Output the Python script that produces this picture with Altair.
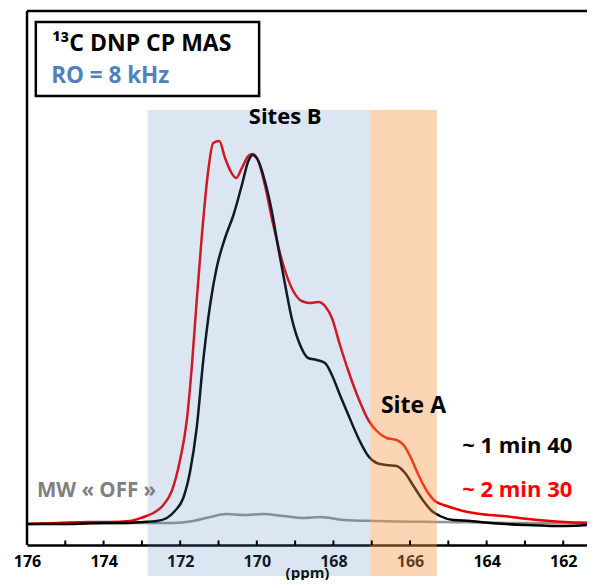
import altair as alt
import pandas as pd

# ---- data ----
RED_PPM = [176.0, 175.2, 174.4, 173.83, 173.31, 172.96, 172.70, 172.44, 172.22, 172.01, 171.83, 171.70,
           171.57, 171.44, 171.27, 171.14, 170.98, 170.83, 170.66, 170.54, 170.39, 170.22, 170.11, 169.96,
           169.79, 169.57, 169.31, 169.05, 168.83, 168.61, 168.39, 168.22, 168.04, 167.83, 167.61, 167.35,
           167.09, 166.87, 166.61, 166.35, 166.17, 166.00, 165.78, 165.56, 165.35, 165.04, 164.61, 164.17,
           163.57, 162.92, 161.97, 161.0]
RED_INT = [0, 1, 2, 2, 3, 7, 11, 19, 33, 63, 103, 156,
           223, 286, 353, 381, 383, 366, 351, 346, 356, 368, 370, 363,
           339, 299, 259, 233, 223, 221, 222, 218, 206, 179, 153, 126,
           104, 93, 86, 84, 79, 68, 49, 33, 23, 18, 13, 10,
           8, 5, 2, 1]

BLACK_PPM = [176.0, 175.0, 174.0, 173.4, 172.96, 172.61, 172.35, 172.14, 171.92, 171.74, 171.57, 171.40,
             171.22, 171.05, 170.83, 170.61, 170.39, 170.22, 170.11, 169.96, 169.79, 169.61, 169.44, 169.26,
             169.09, 168.87, 168.66, 168.44, 168.22, 168.04, 167.83, 167.61, 167.35, 167.09, 166.87, 166.61,
             166.35, 166.13, 165.91, 165.65, 165.43, 165.22, 164.87, 164.43, 164.17, 163.5, 162.92, 161.97,
             161.0]
BLACK_INT = [0, 0, 1, 1, 2, 3, 6, 13, 26, 53, 96, 163,
             219, 256, 286, 309, 339, 363, 369, 363, 343, 313, 276, 239,
             206, 179, 166, 164, 161, 149, 129, 109, 86, 68, 61, 59,
             58, 51, 38, 23, 13, 8, 4, 3, 2, 0, -1, -2,
             0]

GREY_PPM = [176.0, 173.0, 172.2, 171.66, 171.22, 170.79, 170.35, 169.83, 169.31, 168.79, 168.35, 167.74,
            166.87, 165.13, 163.0, 161.0]
GREY_INT = [0, 1, 1, 3, 7, 10, 9, 10, 8, 6, 7, 4,
            3, 2, 1, 1]

TICKS = list(range(162, 177))
MINOR_TICKS = list(range(162, 176))

BAND_START = [172.85, 167.05]
BAND_END = [167.05, 165.3]
BAND_TOP = [414, 414]
BAND_BOTTOM = [-52, -52]
BAND_COLOR = ["#4F81BD", "#F79646"]
BAND_OPACITY = [0.2, 0.4]

X_DOMAIN = [161.38, 176.0]
Y_DOMAIN = [-21, 513]

# ---- tables ----
red_df = pd.DataFrame({"ppm": RED_PPM, "I": RED_INT})
black_df = pd.DataFrame({"ppm": BLACK_PPM, "I": BLACK_INT})
grey_df = pd.DataFrame({"ppm": GREY_PPM, "I": GREY_INT})
band_df = pd.DataFrame({"x1": BAND_START, "x2": BAND_END, "y1": BAND_TOP, "y2": BAND_BOTTOM,
                        "c": BAND_COLOR, "o": BAND_OPACITY})
tick_df = pd.DataFrame({"t": MINOR_TICKS})
box_df = pd.DataFrame({"x1": [175.77], "x2": [169.94], "y1": [502], "y2": [428]})
frame_top_df = pd.DataFrame({"x1": [X_DOMAIN[1]], "x2": [X_DOMAIN[0]], "y": [Y_DOMAIN[1]]})
frame_left_df = pd.DataFrame({"x": [X_DOMAIN[1]], "y1": [Y_DOMAIN[0]], "y2": [Y_DOMAIN[1]]})

left_text_df = pd.DataFrame({
    "label": ["\u00b9\u00b3C DNP CP MAS", "RO = 8 kHz", "~ 1 min 40", "~ 2 min 30", "MW \u00ab OFF \u00bb"],
    "x": [175.35, 175.37, 164.64, 164.64, 175.74],
    "y": [473, 441, 71, 27, 27],
    "c": ["#000000", "#4F81BD", "#000000", "#FF0000", "#808080"],
    "s": [23, 22.5, 22, 22, 20.5],
})
center_text_df = pd.DataFrame({
    "label": ["Sites B", "Site A"],
    "x": [169.26, 165.91],
    "y": [400, 111],
    "c": ["#000000", "#000000"],
    "s": [22, 23],
})

FONT = "Open Sans"

x_scale = alt.Scale(domain=X_DOMAIN, reverse=True, nice=False, zero=False)
y_scale = alt.Scale(domain=Y_DOMAIN, nice=False, zero=False)

x_axis = alt.Axis(
    values=TICKS,
    labelExpr="datum.value % 2 == 0 ? datum.label : ''",
    ticks=False, grid=False, domainColor="black", domainWidth=2.5,
    labelFont=FONT, labelFontSize=16, labelFontWeight="bold", labelColor="black",
    labelPadding=8, labelFlush=False, labelOverlap=False,
    title="(ppm)", titleFont=FONT, titleFontSize=15, titleFontWeight="bold",
    titleColor="black", titleY=32, titleBaseline="alphabetic", zindex=0,
)

X = alt.X("ppm:Q", scale=x_scale, axis=x_axis)
Y = alt.Y("I:Q", scale=y_scale, axis=None)

grey_line = alt.Chart(grey_df).mark_line(color="#808080", strokeWidth=2.5, opacity=0.85,
                                         interpolate="monotone").encode(x=X, y=Y)
red_line = alt.Chart(red_df).mark_line(color="#EE0000", strokeWidth=2.5,
                                       interpolate="monotone").encode(x=X, y=Y)
black_line = alt.Chart(black_df).mark_line(color="#000000", strokeWidth=2.5,
                                           interpolate="monotone").encode(x=X, y=Y)

frame_top = alt.Chart(frame_top_df).mark_rule(color="black", strokeWidth=2.5).encode(
    x=alt.X("x1:Q", scale=x_scale), x2="x2:Q", y=alt.Y("y:Q", scale=y_scale)
)
frame_left = alt.Chart(frame_left_df).mark_rule(color="black", strokeWidth=2.5).encode(
    x=alt.X("x:Q", scale=x_scale), y=alt.Y("y1:Q", scale=y_scale), y2="y2:Q"
)

bands = alt.Chart(band_df).mark_rect().encode(
    x=alt.X("x1:Q", scale=x_scale), x2="x2:Q",
    y=alt.Y("y1:Q", scale=y_scale), y2="y2:Q",
    color=alt.Color("c:N", scale=None),
    opacity=alt.Opacity("o:Q", scale=None),
)

ticks = alt.Chart(tick_df).mark_rule(color="black", strokeWidth=2).encode(
    x=alt.X("t:Q", scale=x_scale), y=alt.value(534), y2=alt.value(529.5)
)

box = alt.Chart(box_df).mark_rect(fill="white", stroke="black", strokeWidth=2.5).encode(
    x=alt.X("x1:Q", scale=x_scale), x2="x2:Q",
    y=alt.Y("y1:Q", scale=y_scale), y2="y2:Q",
)

left_text = alt.Chart(left_text_df).mark_text(align="left", baseline="alphabetic", font=FONT,
                                              fontWeight="bold").encode(
    x=alt.X("x:Q", scale=x_scale), y=alt.Y("y:Q", scale=y_scale),
    text="label:N", color=alt.Color("c:N", scale=None), size=alt.Size("s:Q", scale=None),
)
center_text = alt.Chart(center_text_df).mark_text(align="center", baseline="alphabetic", font=FONT,
                                                  fontWeight="bold").encode(
    x=alt.X("x:Q", scale=x_scale), y=alt.Y("y:Q", scale=y_scale),
    text="label:N", color=alt.Color("c:N", scale=None), size=alt.Size("s:Q", scale=None),
)

chart = alt.layer(
    grey_line, red_line, black_line, frame_top, frame_left, bands, ticks, box, left_text, center_text
).properties(
    width=560, height=534,
    padding={"left": 19, "top": 3, "right": 0, "bottom": 35},
    autosize=alt.AutoSizeParams(type="none"),
).configure_view(stroke=None)

chart.save("out.html", embed_options={"renderer": "svg", "actions": False})
